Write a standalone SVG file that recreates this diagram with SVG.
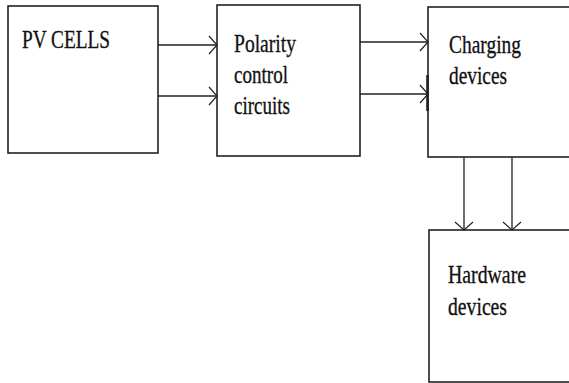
<svg xmlns="http://www.w3.org/2000/svg" width="569" height="383" viewBox="0 0 569 383">
  <style>
    .box { fill: #ffffff; stroke: #222222; stroke-width: 1.6; }
    .lbl { font-family: 'Liberation Serif', 'Times New Roman', serif; font-size: 19.5px; fill: #111111; stroke: #111111; stroke-width: 0.25; }
    .conn { stroke: #222222; stroke-width: 1.3; fill: none; marker-end: url(#arr); }
  </style>
  <defs>
    <marker id="arr" markerUnits="userSpaceOnUse" markerWidth="20" markerHeight="24" viewBox="-10 -12 12 24" refX="0" refY="0" orient="auto">
      <path d="M-8,-9 L0,0 L-8,9" fill="none" stroke="#222222" stroke-width="1.2"/>
    </marker>
  </defs>
  <rect width="569" height="383" fill="#ffffff"/>

  <g id="pv-cells">
    <rect class="box" x="8" y="6" width="150" height="147"/>
    <text class="lbl" transform="translate(22,48) scale(1,1.28)" textLength="88" lengthAdjust="spacingAndGlyphs">PV CELLS</text>
  </g>

  <g id="polarity-control">
    <rect class="box" x="217" y="5" width="143" height="151"/>
    <text class="lbl" transform="translate(234,52) scale(1,1.28)" textLength="62" lengthAdjust="spacingAndGlyphs">Polarity</text>
    <text class="lbl" transform="translate(234,83) scale(1,1.28)" textLength="54" lengthAdjust="spacingAndGlyphs">control</text>
    <text class="lbl" transform="translate(234,114) scale(1,1.28)" textLength="56" lengthAdjust="spacingAndGlyphs">circuits</text>
  </g>

  <g id="charging-devices">
    <rect class="box" x="428" y="7" width="145" height="150"/>
    <line x1="427.5" y1="75" x2="427.5" y2="111" stroke="#222222" stroke-width="2.6"/>
    <text class="lbl" transform="translate(449,53) scale(1,1.28)" textLength="72" lengthAdjust="spacingAndGlyphs">Charging</text>
    <text class="lbl" transform="translate(449,84) scale(1,1.28)" textLength="58" lengthAdjust="spacingAndGlyphs">devices</text>
  </g>

  <g id="hardware-devices">
    <rect class="box" x="429" y="230" width="145" height="152"/>
    <text class="lbl" transform="translate(448,283) scale(1,1.28)" textLength="78" lengthAdjust="spacingAndGlyphs">Hardware</text>
    <text class="lbl" transform="translate(448,315) scale(1,1.28)" textLength="59" lengthAdjust="spacingAndGlyphs">devices</text>
  </g>

  <g id="connectors">
    <line class="conn" x1="158" y1="45" x2="217" y2="45"/>
    <line class="conn" x1="158" y1="96" x2="217" y2="96"/>
    <line class="conn" x1="360" y1="42" x2="428" y2="42"/>
    <line class="conn" x1="360" y1="94" x2="428" y2="94"/>
    <line class="conn" x1="464" y1="157" x2="464" y2="230"/>
    <line class="conn" x1="512" y1="157" x2="512" y2="230"/>
  </g>
</svg>
